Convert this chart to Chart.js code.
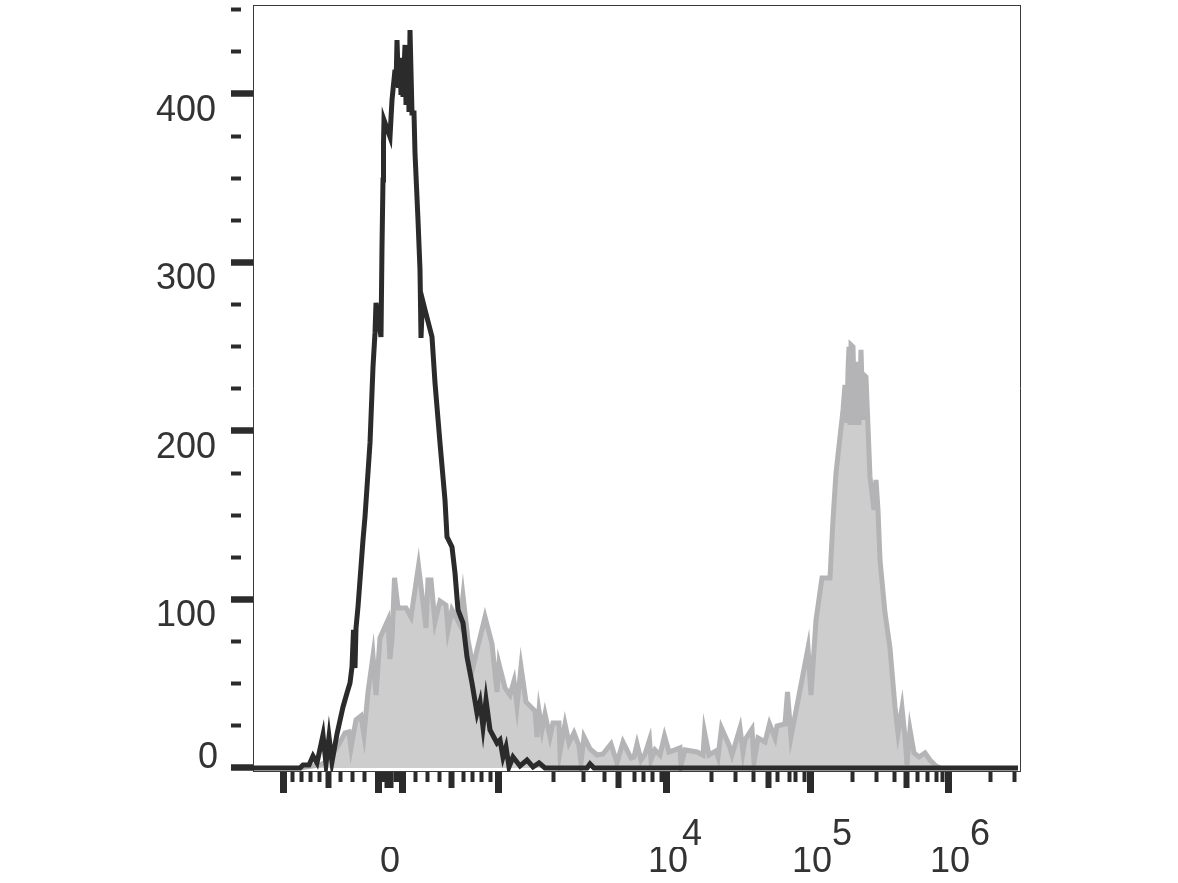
<!DOCTYPE html>
<html>
<head>
<meta charset="utf-8">
<style>html,body{margin:0;padding:0;background:#fff}canvas{display:block}</style>
<script src="https://cdn.jsdelivr.net/npm/chart.js@4"></script>
</head>
<body>
<canvas id="c" width="1178" height="883"></canvas>
<script>
const blackChannels=[0,47,50,56,60,64,70,73,76,79,84,90,94,97,99,100.5,102,103,105,110,112,117,120,122,123,128,129,130,130.5,131,137,139,142,143,144,145.5,147,148,149,150,152,153,155,156,157,159,161,162,165,167,168,169.5,172,179,182,187,192,194,199,202,205,210,214,219,224,227,230,233,237,244,247,250,253,256,260,267,274,280,286,292,334,337,341,765];
const blackCounts=[0,0,1.8,1.8,7.1,3,19.6,2.4,18.4,3.6,20.2,36.2,44.5,50.4,60,81.9,59.3,83,95.6,135.3,149,192.9,238,258.2,276,255.8,309.2,349,371,384.6,374.5,396.4,414.3,404.2,432,403.6,420.2,399.4,421.4,398.2,429.1,393.5,420.2,389.3,438,388.7,388.7,365,325.2,295.6,255.2,277.7,271.8,255.8,228.5,192.9,159,137.1,131.2,115.7,93.8,86.1,65.9,50.4,32.6,39.2,24.3,40.4,22.6,14.8,16.6,6.5,12.5,0.6,6.5,1.2,4.7,0.6,3,0,0,2.4,0,0];
const grayChannels=[47,59,67,73,79,85,92,96,98,103,108,111,115,120,123,127,135,137,139,141.5,145,153,158,165.5,170,173,175,178,182,187,193,195,199,207,210,215,220,224,232,239,244,246,252,257,261,264,268,273,282,284,286,289,292,297,300,306,307,312,316,321,326,328,331,337,344,350,358,364,370,378,381,384,388,392,396.5,398,402,407,411.5,416,422,427,428,432,444,450,451.5,456,463,465,468.5,476,479,487,490,492,499,501,505,512,516.5,522,524,532,534.5,538,547,555,558,563,569,577,580,583,590,592,594,595,596,597,598,600,602,604,606,608,610,611,613,617,621,623,625,627,632,637,642,645,649,652,654,657,661,666,672,677,683,687];
const grayCounts=[0,1.2,1.8,3.6,7.7,13.1,20.8,21.4,11.9,28.5,30.9,19.6,45.1,66.5,43.3,77.2,87.8,64.7,76,112.8,95,95,89.6,119.9,97.9,83.1,111.6,111.6,86.7,99.1,96.7,81.9,93.8,84.9,102.1,76,59.9,70,89.6,73.6,45.1,61.7,47.5,43.3,51.6,36.8,59.9,39.2,33.8,18.4,33.8,22.6,32,18.4,26.7,26.7,9.5,26.1,14.8,20.8,13.1,3,18.4,11.3,7.7,8.3,14.2,3,15.4,5.9,6.5,14.2,4.7,8.3,16.6,4.7,10.7,7.7,19,9.5,10.7,11.9,1.8,10.7,9.5,7.7,21.4,7.7,10.1,6.5,23.7,13.7,7.7,23.7,9.5,16.6,23.1,3.6,17.8,15.4,26.1,17.8,24.9,26.1,45.1,18.4,46.3,71.2,43.3,87.8,112.8,112.8,147.2,175.1,212.5,227.3,204.8,236.2,249.9,203.6,251,249.9,203.6,241,203.6,248.1,206.5,233.2,232.1,172.7,153.1,170.9,153.1,123.4,92,71.2,36.2,20.8,35.6,18.4,1.8,22.6,8.9,6.5,8.9,4.7,1.2,0];

const xMajorTicks=[30.5,125.5,149.5,245.5,413,557.5,695.5];
const xMediumTicks=[75,134,137,198,365,515,653];
const xMinorTicks=[39,48,57,66,87,99,111,130,142,144,162,174,186,210,219,228,237,300,330,351,381,390,399,408,458,482,500,524,536,542,551,599,623,641,664,674,683,689,737,761];
const yMajorTicks=[0,100,200,300,400];
const yMinorTicks=[25,50,75,125,150,175,225,250,275,325,350,375,425,450];
const yLabels=['100','200','300','400'];
const xBaseValues=[137,415,559,697];
const xBaseLabels=['0','10','10','10'];
const xSupValues=[439,589,727];
const xSupLabels=['4','5','6'];

const INK='#2b2b2b', TEXT='#333333', FRAME='#3a3a3a';
const FONT={family:'"Liberation Sans",Arial,sans-serif',size:36};
const zip=(a,b)=>a.map((v,i)=>({x:v,y:b[i]}));
const X={min:0,max:767}, Y={min:-1.8,max:452.8};
const setTicks=vals=>scale=>{scale.ticks=vals.map(v=>({value:v}));};
const noPad=s=>{s.paddingTop=0;s.paddingBottom=0;s.paddingLeft=0;s.paddingRight=0;};
const fixW=w=>s=>{s.width=w;noPad(s);}, fixH=h=>s=>{s.height=h;noPad(s);};
const noGrid={display:false};
const labelAxis=(vals,labels,h,pad,weight)=>({
  type:'linear',position:'bottom',...X,weight,
  afterBuildTicks:setTicks(vals),afterFit:fixH(h),
  border:{display:false},grid:noGrid,
  ticks:{autoSkip:false,maxRotation:0,minRotation:0,color:TEXT,font:FONT,padding:pad,
    callback:v=>{const i=vals.indexOf(v);return i<0?'':labels[i];}}
});

new Chart(document.getElementById('c'),{
  type:'scatter',
  data:{datasets:[
    {data:zip(blackChannels,blackCounts),showLine:true,borderColor:INK,borderWidth:5,fill:false,pointRadius:0,borderJoinStyle:'miter',tension:0,xAxisID:'x',yAxisID:'y'},
    {data:zip(grayChannels,grayCounts),showLine:true,borderColor:'#b4b4b6',backgroundColor:'#cdcdcd',borderWidth:5,fill:'origin',pointRadius:0,borderJoinStyle:'miter',tension:0,xAxisID:'x',yAxisID:'y'}
  ]},
  options:{
    responsive:false,animation:false,devicePixelRatio:1,
    layout:{autoPadding:false,padding:{left:150,right:158,top:5,bottom:0}},
    plugins:{legend:{display:false},tooltip:{enabled:false},title:{display:false}},
    scales:{
      x:{type:'linear',position:'bottom',...X,weight:0,
        afterBuildTicks:setTicks([...xMajorTicks,...xMediumTicks,...xMinorTicks]),afterFit:fixH(22),
        border:{display:true,color:FRAME,width:1},
        grid:{display:true,drawOnChartArea:false,drawTicks:true,tickLength:22,tickColor:INK,
          tickWidth:c=>xMajorTicks.includes(c.tick.value)?7:xMediumTicks.includes(c.tick.value)?6:4,
          tickBorderDash:c=>xMajorTicks.includes(c.tick.value)?[]:xMediumTicks.includes(c.tick.value)?[16,60]:[10,60]},
        ticks:{display:false,autoSkip:false}},
      xSup:labelAxis(xSupValues,xSupLabels,54,12,1),
      xBase:labelAxis(xBaseValues,xBaseLabels,36,-15,2),
      xFrame:{type:'linear',position:'top',...X,afterFit:fixH(0),border:{display:true,color:FRAME,width:1},grid:{display:false,drawTicks:false},ticks:{display:false}},
      y:{type:'linear',position:'left',...Y,weight:0,
        afterBuildTicks:setTicks([...yMajorTicks,...yMinorTicks]),afterFit:fixW(103),
        border:{display:true,color:FRAME,width:1},
        grid:{display:true,drawOnChartArea:false,drawTicks:true,tickLength:22,tickColor:INK,
          tickWidth:c=>yMajorTicks.includes(c.tick.value)?6.5:4,
          tickBorderDash:c=>yMajorTicks.includes(c.tick.value)?[]:[10,60]},
        ticks:{autoSkip:false,color:TEXT,font:FONT,padding:15,labelOffset:17,
          callback:v=>yLabels.includes(String(v))?String(v):''}},
      yZero:{type:'linear',position:'left',...Y,weight:1,
        afterBuildTicks:setTicks([0]),afterFit:fixW(0),
        border:{display:false},grid:noGrid,
        ticks:{autoSkip:false,mirror:true,color:TEXT,font:FONT,padding:48,labelOffset:-10,callback:v=>String(v)}},
      yFrame:{type:'linear',position:'right',...Y,afterFit:fixW(0),border:{display:true,color:FRAME,width:1},grid:{display:false,drawTicks:false},ticks:{display:false}}
    }
  }
});
</script>
</body>
</html>
